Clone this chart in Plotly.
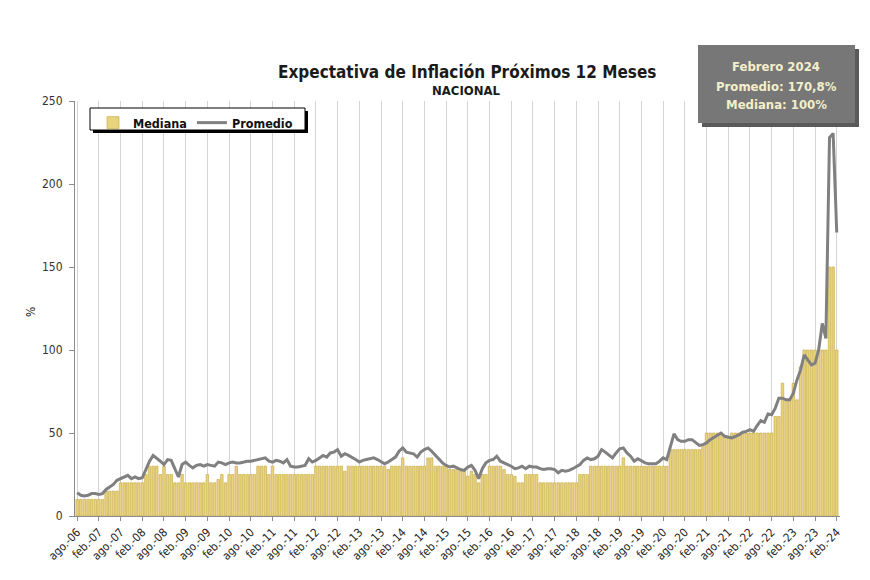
import plotly.graph_objects as go

# ---------------- data (monthly, ago-2006 .. feb-2024) ----------------
mediana_2006 = [10, 10, 10, 10, 10]
mediana_2007 = [10, 10, 10, 15, 15, 15, 15, 20, 20, 20, 20, 20]
mediana_2008 = [20, 20, 25, 30, 30, 30, 25, 30, 25, 25, 20, 20]
mediana_2009 = [25, 20, 20, 20, 20, 20, 20, 25, 20, 20, 22, 25]
mediana_2010 = [20, 25, 25, 30, 25, 25, 25, 25, 25, 30, 30, 30]
mediana_2011 = [25, 30, 25, 25, 25, 25, 25, 25, 25, 25, 25, 25]
mediana_2012 = [25, 30, 30, 30, 30, 30, 30, 30, 30, 27, 30, 30]
mediana_2013 = [30, 30, 30, 30, 30, 30, 30, 30, 30, 28, 30, 30]
mediana_2014 = [30, 35, 30, 30, 30, 30, 30, 30, 35, 35, 30, 30]
mediana_2015 = [30, 30, 28, 28, 28, 27, 27, 24, 27, 25, 20, 25]
mediana_2016 = [25, 30, 30, 30, 30, 28, 25, 25, 24, 20, 20, 25]
mediana_2017 = [25, 25, 25, 20, 20, 20, 20, 20, 20, 20, 20, 20]
mediana_2018 = [20, 20, 25, 25, 25, 30, 30, 30, 30, 30, 30, 30]
mediana_2019 = [30, 30, 35, 30, 30, 30, 30, 30, 30, 30, 30, 30]
mediana_2020 = [30, 30, 30, 40, 40, 40, 40, 40, 40, 40, 40, 40]
mediana_2021 = [43, 50, 50, 50, 50, 50, 48, 48, 50, 50, 50, 50]
mediana_2022 = [50, 50, 50, 50, 50, 50, 50, 50, 60, 60, 80, 70]
mediana_2023 = [70, 80, 70, 90, 100, 100, 100, 100, 100, 100, 100, 150]
mediana_2024 = [150, 100]

promedio_2006 = [14, 12.5, 12, 12.5, 13.5]
promedio_2007 = [13.5, 13, 13.5, 16, 17.5, 19, 21.5, 22.5, 23.5, 24.5, 22.5, 23.5]
promedio_2008 = [22.5, 23, 28, 33, 36.5, 35, 33, 31, 34, 33.5, 29, 23.5]
promedio_2009 = [31, 32.5, 30.5, 29, 30.5, 31, 30, 31, 30.5, 30, 32.5, 32]
promedio_2010 = [31, 32, 32.5, 32, 32, 32.5, 33, 33, 33.5, 34, 34.5, 35]
promedio_2011 = [33, 32.5, 33.5, 33, 32, 34, 30, 29.5, 29.5, 30, 30.5, 34.5]
promedio_2012 = [32.5, 33.5, 35, 36.5, 35.5, 38, 38.5, 40, 36, 37.5, 36.5, 35.5]
promedio_2013 = [34, 32.5, 33.5, 34, 34.5, 35, 34, 32.5, 31.5, 32.5, 34, 35.5]
promedio_2014 = [39, 41, 38.5, 38, 37.5, 35.5, 38.5, 40, 41, 39, 36.5, 34.5]
promedio_2015 = [32, 30.5, 29.5, 30, 29, 28, 27.5, 29.5, 30.5, 27.5, 22.5, 28.5]
promedio_2016 = [32, 33.5, 34, 36, 33, 32, 31, 30, 28.5, 29, 30, 28.5]
promedio_2017 = [30, 29.5, 29.5, 28.5, 28, 28.5, 28.5, 28, 26, 27.5, 27, 27.5]
promedio_2018 = [28.5, 30, 31, 33.5, 35, 34, 34.5, 36, 40, 38.5, 37, 35]
promedio_2019 = [38, 40.5, 41, 38, 36, 33, 34.5, 33, 32, 31.5, 31.5, 31.5]
promedio_2020 = [33, 35, 34, 41, 49.5, 46, 45, 45, 46, 46, 44, 42.5]
promedio_2021 = [43, 44, 46, 47.5, 49, 50, 48, 47.5, 47, 48, 49, 50.5]
promedio_2022 = [51, 52, 51, 54.5, 57.5, 56.5, 61.5, 61, 65, 71, 71, 70]
promedio_2023 = [70, 74, 82, 88, 97, 94, 91, 92, 100, 116, 107, 228]
promedio_2024 = [230.5, 170.8]

tick_labels = ["ago.-06", "feb.-07", "ago.-07", "feb.-08", "ago.-08", "feb.-09",
               "ago.-09", "feb.-10", "ago.-10", "feb.-11", "ago.-11", "feb.-12",
               "ago.-12", "feb.-13", "ago.-13", "feb.-14", "ago.-14", "feb.-15",
               "ago.-15", "feb.-16", "ago.-16", "feb.-17", "ago.-17", "feb.-18",
               "ago.-18", "feb.-19", "ago.-19", "feb.-20", "ago.-20", "feb.-21",
               "ago.-21", "feb.-22", "ago.-22", "feb.-23", "ago.-23", "feb.-24"]
y_ticks = [0, 50, 100, 150, 200, 250]

mediana = (mediana_2006 + mediana_2007 + mediana_2008 + mediana_2009 + mediana_2010 +
           mediana_2011 + mediana_2012 + mediana_2013 + mediana_2014 + mediana_2015 +
           mediana_2016 + mediana_2017 + mediana_2018 + mediana_2019 + mediana_2020 +
           mediana_2021 + mediana_2022 + mediana_2023 + mediana_2024)
promedio = (promedio_2006 + promedio_2007 + promedio_2008 + promedio_2009 + promedio_2010 +
            promedio_2011 + promedio_2012 + promedio_2013 + promedio_2014 + promedio_2015 +
            promedio_2016 + promedio_2017 + promedio_2018 + promedio_2019 + promedio_2020 +
            promedio_2021 + promedio_2022 + promedio_2023 + promedio_2024)
months = list(range(len(mediana)))
tick_pos = months[::6]

FONT = "DejaVu Sans Condensed, Liberation Sans, Arial, sans-serif"

fig = go.Figure()
fig.add_trace(go.Bar(x=months, y=mediana, name="<b>Mediana</b>",
                     marker=dict(color="#E8D37E", line=dict(color="#C4A43A", width=0.6))))
fig.add_trace(go.Scatter(x=months, y=promedio, name="<b>Promedio</b>", mode="lines",
                         line=dict(color="#808080", width=3)))

# page offset (body margin) and plot area in reference pixels: x 75..840, y 101..516
OFF = 8
L, R, T, B = 75 - OFF, 840 - OFF, 101 - OFF, 516 - OFF
W, H = R - L, B - T
def px(x):  # reference pixel -> paper
    return (x - OFF - L) / W
def py(y):
    return (B - (y - OFF)) / H

shapes = [
    # legend shadow + box
    dict(type="rect", xref="paper", yref="paper", x0=px(93), x1=px(308), y0=py(133), y1=py(111),
         fillcolor="#000000", line=dict(width=0), layer="above"),
    dict(type="rect", xref="paper", yref="paper", x0=px(90), x1=px(305), y0=py(130), y1=py(108),
         fillcolor="#ffffff", line=dict(color="#000000", width=1), layer="above"),
    # info box shadow + box
    dict(type="rect", xref="paper", yref="paper", x0=px(702), x1=px(859), y0=py(127), y1=py(49),
         fillcolor="#5a5a5a", line=dict(width=0), layer="above"),
    dict(type="rect", xref="paper", yref="paper", x0=px(698), x1=px(855), y0=py(123), y1=py(45),
         fillcolor="#777777", line=dict(width=0), layer="above"),
]

ann_font = dict(family=FONT, size=13, color="#F3EFCB")
def ann(text, x, y, font, **kw):
    return dict(text=text, xref="paper", yref="paper", x=px(x), y=py(y), showarrow=False,
                xanchor="center", yanchor="middle", font=font, **kw)

annotations = [
    ann("<b>Expectativa de Inflación Próximos 12 Meses</b>", 467, 72,
        dict(family=FONT, size=17, color="#1a1a1a")),
    ann("<b>NACIONAL</b>", 467, 90, dict(family=FONT, size=13, color="#1a1a1a")),
    ann("<b>Febrero 2024</b>", 776, 67, ann_font),
    ann("<b>Promedio: 170,8%</b>", 776, 86, ann_font),
    ann("<b>Mediana: 100%</b>", 776, 104, ann_font),
    ann("%", 31, 312, dict(family=FONT, size=12, color="#222"), textangle=-90),
]

fig.update_layout(
    width=870, height=580,
    margin=dict(l=L, r=870 - R, t=T, b=580 - B, autoexpand=False),
    paper_bgcolor="white", plot_bgcolor="white",
    bargap=0.3,
    showlegend=True,
    legend=dict(orientation="h", x=px(93), y=py(108), xanchor="left", yanchor="top",
                bgcolor="rgba(0,0,0,0)", borderwidth=0,
                font=dict(family=FONT, size=12.5, color="#111"),
                itemwidth=30, tracegroupgap=0),
    shapes=shapes,
    annotations=annotations,
    font=dict(family=FONT, color="#333"),
)
fig.update_xaxes(range=[-0.6, 210.9], tickmode="array", tickvals=tick_pos, ticktext=tick_labels,
                 tickangle=-45, showgrid=True, gridcolor="#D4D4D4", gridwidth=1,
                 showline=True, linecolor="#8c8c8c", ticks="outside", ticklen=4,
                 tickcolor="#8c8c8c", tickfont=dict(family=FONT, size=11.5, color="#222"),
                 zeroline=False, automargin=False)
fig.update_yaxes(range=[0, 250], tickvals=y_ticks, showgrid=False, showline=True,
                 linecolor="#8c8c8c", ticks="outside", ticklen=5, tickcolor="#8c8c8c",
                 tickfont=dict(family=FONT, size=12, color="#333"), zeroline=False,
                 ticklabelstandoff=4, automargin=False)

fig.write_html("out.html")
